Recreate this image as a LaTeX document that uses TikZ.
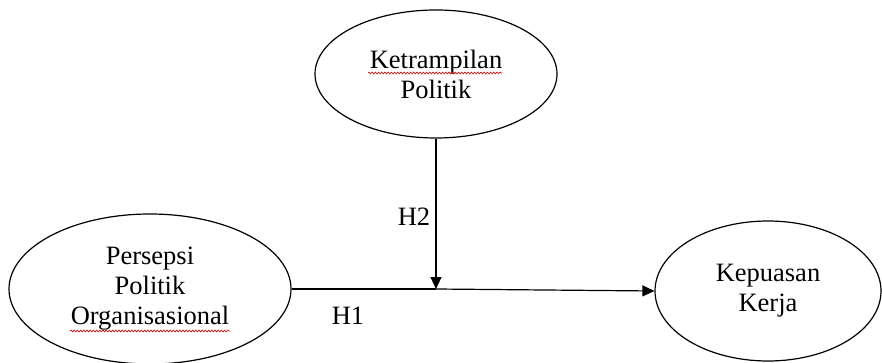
\documentclass[tikz,border=0pt]{standalone}
\usepackage{fontspec}
\setmainfont{Liberation Serif}
\usetikzlibrary{shapes.geometric,arrows.meta,decorations.pathmorphing}
\begin{document}
\begin{tikzpicture}[x=1pt,y=-1pt,
  var/.style={draw, ellipse, line width=1.2pt, inner sep=0pt, align=center,
    font=\fontsize{26.5}{30}\selectfont},
  link/.style={line width=1.2pt, -{Triangle[length=12pt,width=11pt]}},
  lbl/.style={font=\fontsize{26.5}{30}\selectfont, inner sep=0pt},
  spell/.style={red!85!black, line width=0.6pt, decorate, decoration={snake, amplitude=0.9pt, segment length=3.2pt}}]
\useasboundingbox (0,0) rectangle (882,363);
\node[var, minimum width=242pt, minimum height=128pt] (kp) at (436,74) {Ketrampilan\\Politik};
\node[var, minimum width=282pt, minimum height=150pt] (ppo) at (150,289) {Persepsi\\Politik\\Organisasional};
\node[var, minimum width=226pt, minimum height=140pt] (kk) at (768,291) {Kepuasan\\Kerja};
\coordinate (m) at (kp.south |- ppo.east);
\draw[line width=1.2pt] (ppo.east) -- (m);
\draw[link] (m) -- (kk.west);
\draw[link] (kp.south) -- (m);
\node[lbl] (h2) at (414,217) {H2};
\node[lbl] (h1) at (348,316) {H1};
\coordinate (u1a) at (368,73);
\coordinate (u1b) at (502,73);
\coordinate (u2a) at (70,331);
\coordinate (u2b) at (230,331);
\draw[spell] (u1a) -- (u1b);
\draw[spell] (u2a) -- (u2b);
\end{tikzpicture}
\end{document}
